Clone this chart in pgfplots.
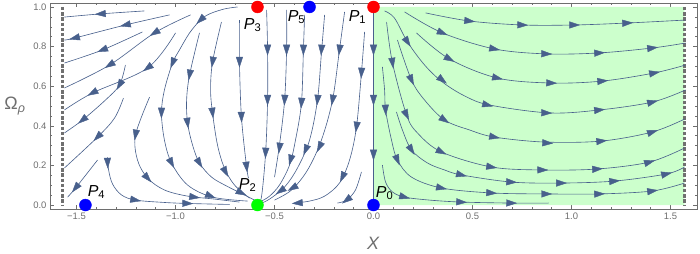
\documentclass[border=0pt]{standalone}
\usepackage{fontspec}
\setmainfont{Liberation Sans}
\usepackage{pgfplots}
\usepackage{pgfplotstable}
\pgfplotsset{compat=1.18}
\definecolor{sc}{RGB}{72,96,140}
\definecolor{lg}{RGB}{204,255,204}
\definecolor{fr}{RGB}{110,110,110}
\definecolor{dg}{RGB}{112,112,112}
\pgfdeclareplotmark{sarr}{%
  \pgfpathmoveto{\pgfqpoint{5bp}{0bp}}%
  \pgfpathlineto{\pgfqpoint{-5bp}{3.3bp}}%
  \pgfpathlineto{\pgfqpoint{-5bp}{-3.3bp}}%
  \pgfpathclose\pgfusepathqfillstroke}
\tikzset{sl/.style={sc, line width=0.62pt, smooth, tension=0.55, mark=none}}
% arrow heads: position and direction (degrees)
\pgfplotstableread{
x y a
0.485 0.929 -7
0.753 0.909 -2
1.015 0.909 0
1.283 0.919 3
0.348 0.869 -23
0.611 0.788 -11
0.874 0.763 -2
1.141 0.768 3
1.409 0.793 7
0.384 0.737 -29
0.626 0.641 -13
0.899 0.616 -2
1.157 0.626 5
1.419 0.667 11
0.172 0.823 -57
0.348 0.631 -38
0.576 0.505 -14
0.874 0.465 -2
1.141 0.480 6
1.409 0.520 14
0.192 0.631 -66
0.359 0.429 -34
0.611 0.343 -11
0.879 0.313 -3
1.152 0.323 6
1.409 0.369 17
0.096 0.717 -82
0.167 0.455 -64
0.343 0.268 -27
0.596 0.192 -9
0.854 0.177 -1
1.131 0.182 4
1.394 0.217 16
0.192 0.278 -58
0.444 0.152 -14
0.697 0.116 -3
0.949 0.111 0
1.217 0.121 5
1.480 0.157 13
0.061 0.480 -87
0.121 0.227 -68
0.343 0.086 -12
0.596 0.061 -4
0.874 0.056 0
1.141 0.056 2
1.409 0.071 8
0.157 0.040 -15
0.444 0.015 -3
0.697 0.010 -1
0 0.783 -90
0 0.530 -90
0 0.253 -90
}\arrR
\pgfplotstableread{
x y a
-0.677 0.722 -90
-0.667 0.444 -88
-0.641 0.192 -83
-0.535 0.783 -90
-0.535 0.530 -90
-0.545 0.263 -92
-0.439 0.783 -90
-0.449 0.530 -93
-0.475 0.288 -97
-0.354 0.783 -91
-0.364 0.515 -94
-0.419 0.227 -105
-0.263 0.783 -94
-0.283 0.530 -96
-0.343 0.278 -112
-0.470 0.071 -145
-0.172 0.783 -97
-0.207 0.530 -100
-0.273 0.293 -115
-0.409 0.086 -150
-0.061 0.667 -93
-0.086 0.394 -98
-0.157 0.141 -114
-0.384 0.010 -175
-0.136 0.025 -143
}\arrM
\pgfplotstableread{
x y a
-1.379 0.965 -176
-1.253 0.909 -167
-1.510 0.843 -166
-1.369 0.783 -158
-1.106 0.869 -148
-1.333 0.707 -148
-1.141 0.692 -144
-1.419 0.566 -151
-1.283 0.606 -120
-1.470 0.429 -141
-1.394 0.343 -135
-1.505 0.086 -129
-1.343 0.212 -88
-1.202 0.025 -10
-0.939 0.008 -2
-1.202 0.354 -100
-1.141 0.136 -48
-0.904 0.040 -8
-0.874 0.934 -136
-1.015 0.717 -111
-1.071 0.465 -91
-1.020 0.212 -63
-0.823 0.045 -22
-0.929 0.657 -100
-0.939 0.414 -82
-0.879 0.212 -59
-0.667 0.061 -27
-0.813 0.722 -99
-0.813 0.465 -83
-0.747 0.167 -62
}\arrL
\begin{document}
\begin{tikzpicture}
\begin{axis}[scale only axis, width=647bp, height=206bp,
  xmin=-1.634, xmax=1.634, ymin=-0.02, ymax=1.02, clip=false,
  axis line style={fr, line width=0.6pt},
  xtick={-1.5,-1,-0.5,0,0.5,1,1.5}, xticklabels={−1.5,−1.0,−0.5,0.0,0.5,1.0,1.5},
  ytick={0,0.2,0.4,0.6,0.8,1}, yticklabels={0.0,0.2,0.4,0.6,0.8,1.0},
  minor x tick num=4, minor y tick num=3,
  tick align=inside, major tick length=4.5bp, minor tick length=2.5bp,
  tick style={fr, line width=0.5pt},
  ticklabel style={font=\fontsize{9.5}{10}\selectfont, text=fr},
  xlabel={\textit{X}}, ylabel={Ω\textsubscript{\textit{ρ}}},
  every axis x label/.style={at={(axis description cs:0.5,0)}, anchor=center, yshift=-34bp, font=\fontsize{18}{18}\selectfont, text=fr},
  every axis y label/.style={at={(axis description cs:0,0.5)}, anchor=center, xshift=-35bp, font=\fontsize{18}{18}\selectfont, text=fr},
  arrowheads/.style={scatter, only marks, mark=sarr, scatter/use mapped color={draw=sc, fill=sc},
     visualization depends on={\thisrow{a} \as \ang},
     scatter/@pre marker code/.append style={/tikz/rotate=\ang}},
]
% shaded region
\addplot[draw=none, fill=lg] coordinates {(0,0) (1.5708,0) (1.5708,1) (0,1) (0,0)};
% boundaries X = +-pi/2
\addplot[dg, line width=3.6bp, dash pattern=on 3.4bp off 1.8bp] coordinates {(-1.5708,1) (-1.5708,0)};
\addplot[dg, line width=3.6bp, dash pattern=on 3.4bp off 1.8bp] coordinates {(1.5708,1) (1.5708,0)};
% ---- right region
\addplot[sl] coordinates {(0.263,0.970) (0.485,0.929) (0.753,0.909) (1.015,0.909) (1.283,0.919) (1.576,0.934)};
\addplot[sl] coordinates {(0.157,0.975) (0.348,0.869) (0.611,0.788) (0.874,0.763) (1.141,0.768) (1.409,0.793) (1.576,0.818)};
\addplot[sl] coordinates {(0.217,0.869) (0.384,0.737) (0.626,0.641) (0.899,0.616) (1.157,0.626) (1.419,0.667) (1.576,0.707)};
\addplot[sl] coordinates {(0.056,0.980) (0.106,0.944) (0.172,0.823) (0.258,0.707) (0.348,0.621) (0.460,0.551) (0.586,0.505) (0.889,0.465) (1.141,0.480) (1.409,0.520) (1.576,0.581)};
\addplot[sl] coordinates {(0.121,0.833) (0.192,0.631) (0.258,0.530) (0.359,0.429) (0.485,0.379) (0.611,0.343) (0.864,0.318) (1.152,0.323) (1.409,0.369) (1.571,0.434)};
\addplot[sl] coordinates {(0.066,0.924) (0.096,0.717) (0.167,0.455) (0.222,0.364) (0.343,0.268) (0.596,0.192) (0.854,0.177) (1.131,0.182) (1.394,0.217) (1.571,0.288)};
\addplot[sl] coordinates {(0.116,0.470) (0.146,0.379) (0.192,0.278) (0.273,0.212) (0.359,0.177) (0.444,0.152) (0.697,0.116) (0.949,0.111) (1.217,0.121) (1.480,0.157) (1.571,0.192)};
\addplot[sl] coordinates {(0.045,0.697) (0.056,0.581) (0.061,0.480) (0.091,0.328) (0.121,0.227) (0.192,0.141) (0.343,0.086) (0.596,0.061) (0.874,0.056) (1.141,0.056) (1.409,0.071) (1.571,0.111)};
\addplot[sl] coordinates {(0.045,0.202) (0.061,0.116) (0.096,0.066) (0.157,0.040) (0.283,0.025) (0.444,0.015) (0.697,0.010) (0.884,0.010)};
% ---- X = 0 invariant line
\addplot[sl] coordinates {(0,1) (0,0)};
% ---- middle region
\addplot[sl] coordinates {(-0.677,0.934) (-0.677,0.722) (-0.667,0.444) (-0.641,0.192) (-0.631,0.136)};
\addplot[sl] coordinates {(-0.540,0.985) (-0.535,0.783) (-0.535,0.530) (-0.545,0.263) (-0.566,0.040) (-0.586,0.010)};
\addplot[sl] coordinates {(-0.439,0.985) (-0.439,0.783) (-0.449,0.530) (-0.475,0.303) (-0.500,0.141)};
\addplot[sl] coordinates {(-0.348,0.960) (-0.354,0.783) (-0.364,0.515) (-0.394,0.328) (-0.424,0.202) (-0.475,0.101) (-0.525,0.045) (-0.566,0.020)};
\addplot[sl] coordinates {(-0.247,0.960) (-0.263,0.768) (-0.283,0.530) (-0.323,0.328) (-0.384,0.187) (-0.449,0.091) (-0.525,0.030) (-0.566,0.010)};
\addplot[sl] coordinates {(-0.146,0.975) (-0.172,0.783) (-0.207,0.530) (-0.263,0.328) (-0.333,0.177) (-0.414,0.076) (-0.500,0.025)};
\addplot[sl] coordinates {(-0.045,0.874) (-0.061,0.667) (-0.086,0.394) (-0.121,0.227) (-0.172,0.111) (-0.247,0.045) (-0.323,0.020) (-0.399,0.010)};
\addplot[sl] coordinates {(-0.061,0.167) (-0.091,0.076) (-0.136,0.025) (-0.182,0.010)};
% ---- left region, towards X = -pi/2
\addplot[sl] coordinates {(-1.157,0.980) (-1.379,0.965) (-1.561,0.949)};
\addplot[sl] coordinates {(-1.030,0.960) (-1.253,0.909) (-1.510,0.843) (-1.561,0.833)};
\addplot[sl] coordinates {(-1.167,0.874) (-1.369,0.783) (-1.561,0.717)};
\addplot[sl] coordinates {(-0.924,0.960) (-1.106,0.869) (-1.333,0.707) (-1.561,0.591)};
\addplot[sl] coordinates {(-1.000,0.869) (-1.141,0.692) (-1.419,0.566) (-1.561,0.480)};
\addplot[sl] coordinates {(-1.253,0.707) (-1.283,0.606) (-1.354,0.530) (-1.470,0.429) (-1.561,0.364)};
\addplot[sl] coordinates {(-1.263,0.540) (-1.308,0.439) (-1.394,0.343) (-1.561,0.187)};
\addplot[sl] coordinates {(-1.394,0.227) (-1.505,0.086) (-1.545,0.040)};
% ---- left region, turning towards P2
\addplot[sl] coordinates {(-1.343,0.242) (-1.338,0.177) (-1.318,0.106) (-1.273,0.051) (-1.202,0.025) (-1.056,0.013) (-0.939,0.008) (-0.727,0.003)};
\addplot[sl] coordinates {(-1.131,0.545) (-1.202,0.354) (-1.192,0.227) (-1.141,0.136) (-1.056,0.076) (-0.939,0.045) (-0.803,0.030) (-0.677,0.015)};
\addplot[sl] coordinates {(-0.687,1.0) (-0.753,0.990) (-0.828,0.965) (-0.874,0.934) (-0.929,0.869) (-0.980,0.783) (-1.015,0.717) (-1.056,0.581) (-1.071,0.465) (-1.056,0.328) (-1.020,0.212) (-0.939,0.101) (-0.813,0.040) (-0.636,0.020)};
\addplot[sl] coordinates {(-0.879,0.869) (-0.929,0.657) (-0.944,0.530) (-0.939,0.414) (-0.914,0.303) (-0.879,0.212) (-0.818,0.141) (-0.742,0.096) (-0.652,0.051) (-0.601,0.025)};
\addplot[sl] coordinates {(-0.768,0.924) (-0.813,0.722) (-0.823,0.581) (-0.813,0.465) (-0.788,0.303) (-0.753,0.187) (-0.702,0.101) (-0.626,0.035)};
% ---- arrow heads
\addplot[arrowheads] table[x=x, y=y] {\arrR};
\addplot[arrowheads] table[x=x, y=y] {\arrM};
\addplot[arrowheads] table[x=x, y=y] {\arrL};
% ---- critical points
\addplot[only marks, mark=*, mark size=6bp, color=red, mark options={draw=none, fill=red}] coordinates {(-0.586,1) (0,1)};
\addplot[only marks, mark=*, mark size=6bp, color=blue, mark options={draw=none, fill=blue}] coordinates {(-0.323,1) (0,0) (-1.455,0)};
\addplot[only marks, mark=*, mark size=6bp, color=green, mark options={draw=none, fill=green}] coordinates {(-0.586,0)};
\begin{scope}[every node/.style={font=\fontsize{16}{16}\selectfont, inner sep=0pt}]
\node at (axis cs:-0.611,0.909) {\textit{P}\textsubscript{3}};
\node at (axis cs:-0.389,0.949) {\textit{P}\textsubscript{5}};
\node at (axis cs:-0.081,0.949) {\textit{P}\textsubscript{1}};
\node at (axis cs:-0.636,0.101) {\textit{P}\textsubscript{2}};
\node at (axis cs:0.056,0.061) {\textit{P}\textsubscript{0}};
\node at (axis cs:-1.399,0.066) {\textit{P}\textsubscript{4}};
\end{scope}
\end{axis}
\pgfresetboundingbox
\path[use as bounding box] ([shift={(-50bp,-45bp)}]current axis.south west) rectangle ([shift={(3bp,3bp)}]current axis.north east);
\end{tikzpicture}
\end{document}
